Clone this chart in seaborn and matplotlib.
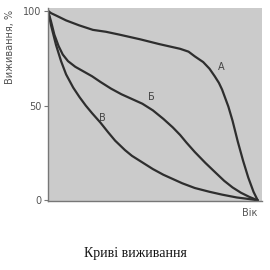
import numpy as np
import pandas as pd
import matplotlib
matplotlib.use("Agg")
import matplotlib.pyplot as plt
import seaborn as sns

# Data (age scaled 0-100, survival %)
age_a = [0, 1.5, 3.8, 8.6, 14.8, 21.4, 27.6, 34, 44, 53, 63, 67, 70, 74, 77,
         79.5, 81.5, 83, 84.5, 86, 88, 90.5, 93, 95.5, 98, 100]
surv_a = [100, 98.8, 97.6, 95, 92.4, 90, 89, 87.5, 85, 82.5, 80, 78.5, 76, 73,
          69.5, 65.5, 62, 58.5, 54, 49.5, 42, 31, 21, 12, 4.5, 0]
age_b = [0, 1.4, 3, 5, 7, 9.5, 13, 17, 21, 25, 30, 35, 40, 45, 50, 55, 59.5,
         63, 66, 70, 75, 80, 84, 88, 92, 96, 100]
surv_b = [100, 94.5, 87.5, 81.5, 77, 73.5, 70.5, 68, 65.5, 62.5, 59, 56, 53.5,
          51, 47.5, 43, 38.5, 34.5, 30.5, 25.5, 19.8, 14.5, 10.3, 6.8, 4, 1.8, 0]
age_c = [0, 1.4, 3.8, 6.2, 8.6, 12, 15, 18, 21, 25, 28.6, 32, 36.7, 40, 45,
         50, 55, 60, 64, 70, 77, 83, 90, 95, 100]
surv_c = [100, 92.5, 82, 73.5, 66.5, 59.5, 54.5, 50, 46, 41, 36, 31.5, 26.5,
          23.5, 20, 16.5, 13.5, 11, 9, 6.5, 4.5, 3, 1.5, 0.8, 0]
curve_labels = ["А", "Б", "В"]
y_ticks = [0, 50, 100]

df = pd.concat([
    pd.DataFrame({"age": age_a, "surv": surv_a, "curve": "А"}),
    pd.DataFrame({"age": age_b, "surv": surv_b, "curve": "Б"}),
    pd.DataFrame({"age": age_c, "surv": surv_c, "curve": "В"}),
])

sns.set_style("white")
plt.rcParams["font.family"] = ["DejaVu Sans"]

fig = plt.figure(figsize=(2.7, 2.7), dpi=100)
ax = fig.add_axes([0.178, 0.256, 0.792, 0.714])
ax.set_facecolor("#cbcbcb")

sns.lineplot(data=df, x="age", y="surv", hue="curve", sort=False,
             palette={k: "#2e2e2e" for k in curve_labels}, linewidth=1.6,
             legend=False, ax=ax)
for ln in ax.get_lines():
    ln.set_solid_joinstyle("round")
    ln.set_solid_capstyle("round")

ax.set_xlim(0, 102)
ax.set_ylim(-0.3, 101.5)
ax.set_yticks(y_ticks)
ax.set_yticklabels([str(t) for t in y_ticks], fontsize=7, color="#555555")
ax.set_xticks([])
ax.tick_params(axis="y", length=3, width=0.8, color="#777777", pad=2, left=True)
for s in ["top", "right"]:
    ax.spines[s].set_visible(False)
for s in ["left", "bottom"]:
    ax.spines[s].set_color("#777777")
    ax.spines[s].set_linewidth(1.0)

ax.set_xlabel("")
ax.set_ylabel("Виживання, %", fontsize=7, color="#555555", labelpad=3)
ax.yaxis.set_label_coords(-0.155, 0.8)

ax.text(81, 69, "А", fontsize=7, color="#444444")
ax.text(47.5, 53, "Б", fontsize=7, color="#444444")
ax.text(24.5, 42, "В", fontsize=7, color="#444444")

fig.text(250 / 270, 1 - 213 / 270, "Вік", fontsize=7, color="#555555",
         ha="center", va="center")
fig.text(135 / 270, 1 - 253 / 270, "Криві виживання", fontsize=10,
         family=["Liberation Serif"], color="#111111", ha="center", va="center")

fig.savefig("out.png", dpi=100)
